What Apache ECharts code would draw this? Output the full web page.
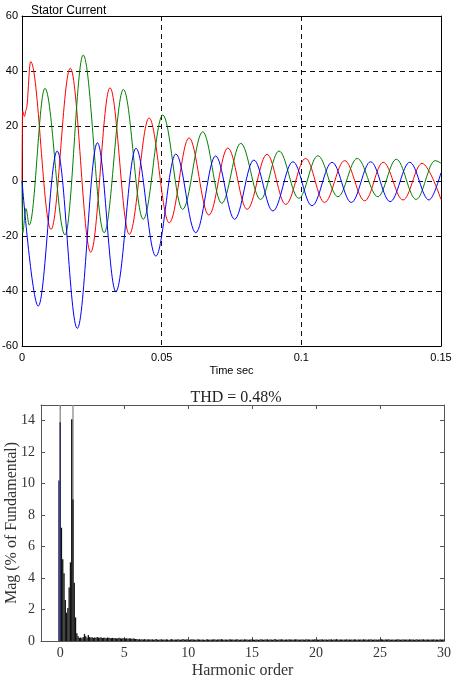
<!DOCTYPE html>
<html>
<head>
<meta charset="utf-8">
<title>Stator Current</title>
<script src="https://cdn.jsdelivr.net/npm/echarts@6/dist/echarts.min.js"></script>
<style>
    html, body { margin: 0; padding: 0; background: #fff; }
    #chart { width: 456px; height: 680px; }
</style>
</head>
<body>
<div id="chart"></div>
<script>
// ---- stator current, peaks / troughs (time in s, current in A)
var tA = [0, 0.0002, 0.0009, 0.0015, 0.0031, 0.0104, 0.0173, 0.0246, 0.0315, 0.0384, 0.0455, 0.0527, 0.0598,
    0.0669, 0.0737, 0.0806, 0.0877, 0.0944, 0.1015, 0.1083, 0.1155, 0.1227, 0.1293, 0.1364, 0.1432, 0.15];
var iA = [0, 25.5, 23.5, 26, 43.4, -17.6, 41, -25.9, 33.9, -19.4, 22.9, -15.2, 15.7,
    -12.4, 12, -10.3, 9.7, -8.5, 8.2, -7.8, 7.4, -7.2, 6.8, -6.9, 6.4, -6.7];

var tB = [0, 0.0002, 0.0014, 0.0026, 0.0082, 0.0154, 0.0219, 0.0294, 0.0363, 0.0434, 0.0504, 0.0575, 0.0647,
    0.0715, 0.0783, 0.0854, 0.0920, 0.0991, 0.1059, 0.1131, 0.1200, 0.1274, 0.1340, 0.1411, 0.1479, 0.15];
var iB = [0, -19, -10, -16, 33.7, -19.6, 45.8, -18.8, 33.3, -13.9, 24, -10.3, 17.9,
    -8.1, 13.7, -6.7, 10.9, -6.3, 9.2, -5.7, 8.2, -5.7, 7.9, -6.7, 7.4, 6.5];

var tC = [0, 0.0058, 0.0126, 0.0198, 0.0270, 0.0336, 0.0408, 0.0479, 0.0551, 0.0622, 0.0693, 0.0761,
    0.0830, 0.0898, 0.0970, 0.1038, 0.1110, 0.1179, 0.1248, 0.1318, 0.1388, 0.1457, 0.15];
var iC = [0, -45.5, 10.9, -53.6, 13.9, -40.2, 11.9, -27.3, 9.8, -18.8, 9.1, -13.9,
    7.6, -10.9, 7, -9, 6.8, -7.8, 7, -7.5, 6.8, -6.9, 3];

var timeTicks = [0, 0.05, 0.1, 0.15];
var currentTicks = [-60, -40, -20, 0, 20, 40, 60];

// ---- FFT spectrum, one bar every 0.1 harmonic starting at -0.1
var binStart = -0.1;
var binStep = 0.1;
var mag = [
    10.2,
    13.9, 7.2, 5.2, 4.3, 2.6, 1.8, 2.1, 3.4, 5.0, 14.1,     // 0.0 - 0.9
    9.0, 3.7, 1.5, 0.5, 0.3, 0.2, 0.22, 0.18, 0.25, 0.45,   // 1
    0.3, 0.2, 0.38, 0.25, 0.22, 0.24, 0.2, 0.23, 0.21, 0.25,
    0.22, 0.2, 0.24, 0.19, 0.21, 0.2, 0.18, 0.22, 0.2, 0.19,
    0.18, 0.2, 0.17, 0.19, 0.16, 0.18, 0.2, 0.17, 0.16, 0.18,
    0.17, 0.16, 0.18, 0.15, 0.17, 0.16, 0.14, 0.16, 0.15, 0.13, // 5
    0.12, 0.1, 0.12, 0.09, 0.11, 0.1, 0.12, 0.09, 0.1, 0.11,
    0.1, 0.09, 0.11, 0.08, 0.1, 0.12, 0.09, 0.08, 0.1, 0.11,
    0.09, 0.1, 0.08, 0.11, 0.09, 0.07, 0.1, 0.12, 0.09, 0.08,
    0.1, 0.09, 0.11, 0.1, 0.08, 0.09, 0.12, 0.1, 0.09, 0.11,
    0.1, 0.08, 0.09, 0.11, 0.1, 0.09, 0.08, 0.1, 0.11, 0.09,   // 10
    0.08, 0.1, 0.09, 0.07, 0.1, 0.11, 0.09, 0.08, 0.1, 0.09,
    0.11, 0.09, 0.08, 0.1, 0.09, 0.1, 0.12, 0.09, 0.08, 0.1,
    0.09, 0.08, 0.1, 0.11, 0.09, 0.1, 0.08, 0.09, 0.11, 0.1,
    0.08, 0.09, 0.1, 0.08, 0.11, 0.09, 0.1, 0.08, 0.09, 0.1,
    0.11, 0.09, 0.08, 0.1, 0.09, 0.07, 0.1, 0.11, 0.09, 0.08,  // 15
    0.1, 0.09, 0.11, 0.08, 0.1, 0.09, 0.08, 0.1, 0.12, 0.09,
    0.08, 0.1, 0.09, 0.11, 0.1, 0.08, 0.09, 0.1, 0.08, 0.11,
    0.09, 0.1, 0.08, 0.09, 0.11, 0.1, 0.09, 0.08, 0.1, 0.09,
    0.1, 0.08, 0.11, 0.09, 0.1, 0.09, 0.08, 0.1, 0.09, 0.11,
    0.09, 0.1, 0.08, 0.1, 0.09, 0.11, 0.08, 0.09, 0.1, 0.08,   // 20
    0.1, 0.09, 0.11, 0.08, 0.09, 0.1, 0.12, 0.09, 0.08, 0.1,
    0.09, 0.08, 0.1, 0.09, 0.11, 0.08, 0.1, 0.09, 0.1, 0.08,
    0.11, 0.09, 0.08, 0.1, 0.09, 0.1, 0.08, 0.11, 0.09, 0.1,
    0.08, 0.1, 0.09, 0.11, 0.08, 0.09, 0.1, 0.09, 0.08, 0.1,
    0.09, 0.11, 0.1, 0.08, 0.09, 0.1, 0.09, 0.11, 0.08, 0.09,  // 25
    0.1, 0.08, 0.09, 0.1, 0.11, 0.09, 0.08, 0.1, 0.09, 0.1,
    0.09, 0.1, 0.08, 0.11, 0.09, 0.1, 0.09, 0.08, 0.1, 0.11,
    0.08, 0.09, 0.1, 0.09, 0.11, 0.08, 0.1, 0.09, 0.1, 0.08,
    0.1, 0.09, 0.11, 0.08, 0.1, 0.09, 0.08, 0.11, 0.09, 0.1,
    0.09                                                        // 30
];
// DC and fundamental run off the top of the axes
var clipOrders = [0, 1];
var clipMags = [60, 100];

var harmonicTicks = [0, 5, 10, 15, 20, 25, 30];
var magTicks = [0, 2, 4, 6, 8, 10, 12, 14];

function pairs(xs, ys) {
    return xs.map(function (x, i) { return [x, ys[i]]; });
}
var magData = mag.map(function (v, i) {
    return [Math.round((binStart + i * binStep) * 10) / 10, v];
});

var sans = 'Liberation Sans, Arial, sans-serif';
var serif = 'Liberation Serif, Times New Roman, serif';
var dash = { show: true, lineStyle: { color: '#111', type: [5, 4], width: 1 } };
var boxLine = { show: true, onZero: false, lineStyle: { color: '#000', width: 1 } };
var grayBox = { show: true, onZero: false, lineStyle: { color: '#555', width: 1 } };

function traceSeries(name, color, data) {
    return {
        name: name,
        type: 'line',
        xAxisIndex: 0,
        yAxisIndex: 0,
        data: data,
        showSymbol: false,
        smooth: 0.36,
        smoothMonotone: 'x',
        lineStyle: { color: color, width: 1 },
        itemStyle: { color: color }
    };
}

var myChart = echarts.init(document.getElementById('chart'));
var option = {
    backgroundColor: '#fff',
    animation: false,
    title: [
        {
            text: 'Stator Current',
            left: 26,
            top: 0,
            textStyle: { fontFamily: sans, fontSize: 12, fontWeight: 'normal', color: '#000' }
        },
        {
            text: 'THD = 0.48%',
            left: 231,
            top: 385,
            textAlign: 'center',
            textStyle: { fontFamily: serif, fontSize: 16, fontWeight: 'normal', color: '#222' }
        }
    ],
    grid: [
        { left: 22, right: 15, top: 16, height: 330, outerBoundsMode: 'none', containLabel: false },
        { left: 41, right: 12, top: 405, height: 236, outerBoundsMode: 'none', containLabel: false }
    ],
    xAxis: [
        {
            gridIndex: 0, type: 'value', min: 0, max: 0.15, interval: 0.05,
            axisLine: boxLine, axisTick: { show: false }, splitLine: dash,
            axisLabel: { fontFamily: sans, fontSize: 11, color: '#000', margin: 6, customValues: timeTicks },
            name: 'Time sec', nameLocation: 'middle', nameGap: 19,
            nameTextStyle: { fontFamily: sans, fontSize: 11, color: '#000' }
        },
        {
            gridIndex: 0, type: 'value', position: 'top', min: 0, max: 0.15,
            axisLine: boxLine, axisTick: { show: false }, axisLabel: { show: false }, splitLine: { show: false }
        },
        {
            gridIndex: 1, type: 'value', min: -1.5, max: 30,
            axisLine: grayBox, splitLine: { show: false },
            axisTick: { inside: true, length: 4, customValues: harmonicTicks, lineStyle: { color: '#555' } },
            axisLabel: { fontFamily: serif, fontSize: 14, color: '#333', margin: 5, customValues: harmonicTicks },
            name: 'Harmonic order', nameLocation: 'middle', nameGap: 22,
            nameTextStyle: { fontFamily: serif, fontSize: 16, color: '#333' }
        },
        {
            gridIndex: 1, type: 'value', position: 'top', min: -1.5, max: 30,
            axisLine: grayBox, splitLine: { show: false }, axisLabel: { show: false },
            axisTick: { inside: true, length: 4, customValues: harmonicTicks, lineStyle: { color: '#555' } }
        }
    ],
    yAxis: [
        {
            gridIndex: 0, type: 'value', min: -60, max: 60, interval: 20,
            axisLine: boxLine, axisTick: { show: false }, splitLine: dash,
            axisLabel: { fontFamily: sans, fontSize: 11, color: '#000', margin: 4, customValues: currentTicks }
        },
        {
            gridIndex: 0, type: 'value', position: 'right', min: -60, max: 60,
            axisLine: boxLine, axisTick: { show: false }, axisLabel: { show: false }, splitLine: { show: false }
        },
        {
            gridIndex: 1, type: 'value', min: 0, max: 15,
            axisLine: grayBox, splitLine: { show: false },
            axisTick: { inside: true, length: 4, customValues: magTicks, lineStyle: { color: '#555' } },
            axisLabel: { fontFamily: serif, fontSize: 14, color: '#333', margin: 6, customValues: magTicks },
            name: 'Mag (% of Fundamental)', nameLocation: 'middle', nameGap: 21, nameRotate: 90,
            nameMoveOverlap: false,
            nameTextStyle: { fontFamily: serif, fontSize: 16, color: '#333' }
        },
        {
            gridIndex: 1, type: 'value', position: 'right', min: 0, max: 15,
            axisLine: grayBox, splitLine: { show: false }, axisLabel: { show: false },
            axisTick: { inside: true, length: 4, customValues: magTicks, lineStyle: { color: '#555' } }
        }
    ],
    series: [
        traceSeries('Phase A', '#ff0000', pairs(tA, iA)),
        traceSeries('Phase B', '#008000', pairs(tB, iB)),
        traceSeries('Phase C', '#0000ff', pairs(tC, iC)),
        {
            name: 'clipped',
            type: 'bar',
            xAxisIndex: 2,
            yAxisIndex: 2,
            barWidth: 1.3,
            data: pairs(clipOrders, clipMags),
            itemStyle: { color: '#8c8c8c' }
        },
        {
            name: 'Mag',
            type: 'bar',
            xAxisIndex: 2,
            yAxisIndex: 2,
            barWidth: 1.3,
            barGap: '-100%',
            data: magData,
            itemStyle: {
                color: function (p) {
                    return p.data[0] <= 0.05 ? '#1c1c5e' : '#111';
                }
            }
        }
    ]
};
myChart.setOption(option);
</script>
</body>
</html>
